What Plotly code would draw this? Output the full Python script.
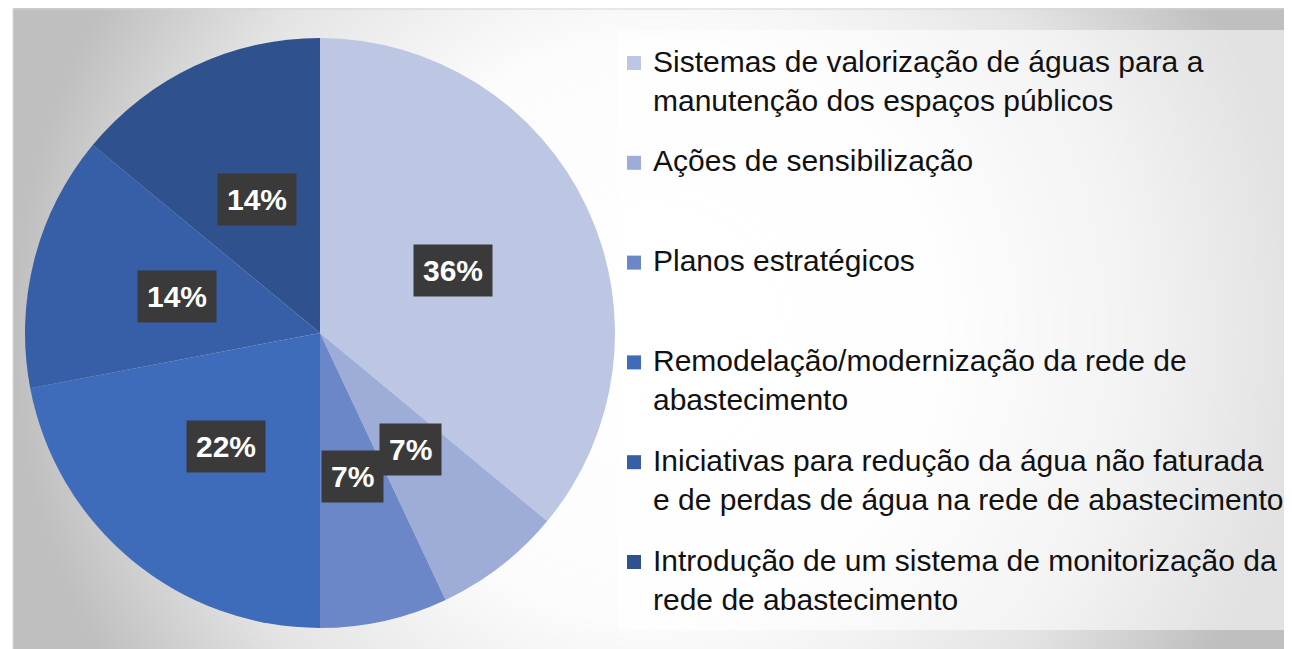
import math
import plotly.graph_objects as go

# dados do gráfico (percentagens)
categorias = [
    "Sistemas de valorização de águas para a<br>manutenção dos espaços públicos",
    "Ações de sensibilização",
    "Planos estratégicos",
    "Remodelação/modernização da rede de<br>abastecimento",
    "Iniciativas para redução da água não faturada<br>e de perdas de água na rede de abastecimento",
    "Introdução de um sistema de monitorização da<br>rede de abastecimento",
]
valores = [36, 7, 7, 22, 14, 14]
rotulos = ["36%", "7%", "7%", "22%", "14%", "14%"]
cores = ["#BDC7E3", "#9DADD8", "#6C87C8", "#3E6CBB", "#375FA8", "#2F528F"]

# a página tem 8px de margem no body, por isso a figura fica 16px menor
W, H = 1284, 641
fonte = "Liberation Sans, Arial, sans-serif"

# posição da tarte (centro e raio em pixels da figura)
cx, cy, r = 312, 325, 295
dom_x = [(cx - r) / W, (cx + r) / W]
dom_y = [1 - (cy + r) / H, 1 - (cy - r) / H]

# legenda desenhada à mão para ter o espaçamento do original
leg_x, leg_y0, leg_passo = 626, 55, 99.8
leg_fs = 30

fig = go.Figure()

# fundo com gradiente radial (quadrado, para o gradiente ficar circular)
gx0, gx1 = 5, W + 5
gm = (gx1 - gx0) / 2
gyc = 322
fig.add_trace(go.Scatter(
    x=[gx0, gx1, gx1, gx0, gx0], y=[gyc - gm, gyc - gm, gyc + gm, gyc + gm, gyc - gm],
    mode="lines", fill="toself", line=dict(width=0),
    fillgradient=dict(type="radial",
                      colorscale=[[0, "#ffffff"], [0.45, "#fcfcfc"], [0.75, "#e4e4e4"], [1, "#bfbfbf"]]),
    hoverinfo="skip", showlegend=False,
))
# moldura (topo e lado esquerdo)
fig.add_trace(go.Scatter(
    x=[W + 5, gx0, gx0], y=[1, 1, H + 5], mode="lines",
    line=dict(color="#d6d6d6", width=1), hoverinfo="skip", showlegend=False,
))
# caixa clara por trás da legenda
fig.add_trace(go.Scatter(
    x=[610, W + 10, W + 10, 610, 610], y=[22, 22, 622, 622, 22],
    mode="lines", fill="toself", line=dict(width=0),
    fillcolor="rgba(255,255,255,0.55)", hoverinfo="skip", showlegend=False,
))

fig.add_trace(go.Pie(
    labels=categorias, values=valores, sort=False, direction="clockwise", rotation=0,
    marker=dict(colors=cores, line=dict(width=0)),
    textinfo="none", domain=dict(x=dom_x, y=dom_y), showlegend=False,
))

# quadrados da legenda
ys = [leg_y0 + i * leg_passo for i in range(len(categorias))]
fig.add_trace(go.Scatter(
    x=[leg_x] * len(categorias), y=ys, mode="markers",
    marker=dict(symbol="square", size=14, color=cores, line=dict(width=0)),
    hoverinfo="skip", showlegend=False,
))
for yy, cat in zip(ys, categorias):
    fig.add_annotation(
        x=leg_x + 18, y=yy - 0.65 * leg_fs, xref="x", yref="y",
        xanchor="left", yanchor="top", align="left", showarrow=False,
        text=cat, borderpad=0,
        font=dict(family=fonte, size=leg_fs, color="#111111"),
    )

# rótulos com caixa escura a meio raio, no ângulo médio de cada fatia
total = sum(valores)
acum = 0
for v, lab in zip(valores, rotulos):
    ang = 2 * math.pi * (acum + v / 2) / total
    acum += v
    fig.add_annotation(
        x=cx + 0.5 * r * math.sin(ang), y=cy - 0.5 * r * math.cos(ang),
        xref="x", yref="y",
        text="<b>" + lab + "</b>", showarrow=False,
        font=dict(family=fonte, size=30, color="white"),
        bgcolor="#3a3a3a", borderpad=9,
    )

fig.update_xaxes(range=[0, W], visible=False, domain=[0, 1])
fig.update_yaxes(range=[H, 0], visible=False, domain=[0, 1])

fig.update_layout(
    width=W, height=H,
    margin=dict(l=0, r=0, t=0, b=0),
    paper_bgcolor="white", plot_bgcolor="rgba(0,0,0,0)",
    showlegend=False,
)

fig.write_html("out.html")
